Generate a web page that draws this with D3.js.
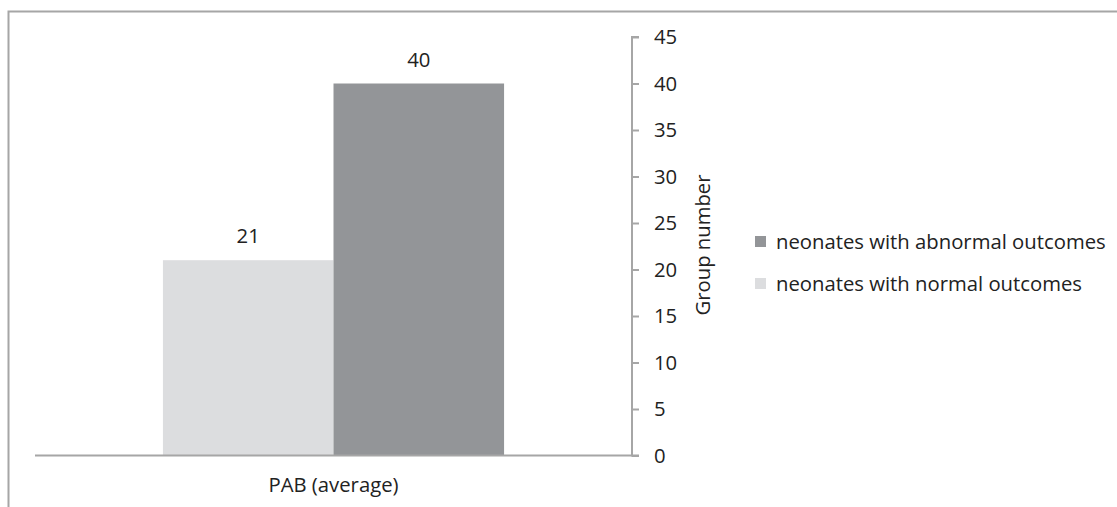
<!DOCTYPE html>
<html><head><meta charset="utf-8">
<script src="https://cdn.jsdelivr.net/npm/d3@7/dist/d3.min.js"></script>
<style>body{margin:0;background:#fff;} svg{display:block;font-family:"Open Sans",sans-serif;}</style>
</head><body>
<script>
const categories = ["PAB (average)"];
const seriesNames = ["neonates with normal outcomes", "neonates with abnormal outcomes"];
const seriesValues = [[21], [40]];
const seriesColors = ["#dcdddf", "#939598"];
const yTicks = [0,5,10,15,20,25,30,35,40,45];
const yTitle = "Group number";

const W = 1117, H = 507, FS = 20.3;
const svg = d3.select("body").append("svg").attr("width", W).attr("height", H);
// outer frame
svg.append("path").attr("d", `M8.5,${H} V11.5 H${W}`).attr("fill","none").attr("stroke","#a6a6a6").attr("stroke-width",2);

const x0 = 35, x1 = 632, yTop = 37, yBot = 455.5;
const y = d3.scaleLinear().domain([0,45]).range([yBot, yTop]);
const xb = d3.scaleBand().domain(categories).range([x0, x1]).paddingInner(0).paddingOuter(0.375);
const xs = d3.scaleBand().domain(seriesNames).range([0, xb.bandwidth()]);

const g = svg.append("g");
categories.forEach((c, ci) => {
  seriesNames.forEach((s, si) => {
    const v = seriesValues[si][ci];
    g.append("rect").attr("x", xb(c)+xs(s)).attr("y", y(v)).attr("width", xs.bandwidth()).attr("height", y(0)-y(v)).attr("fill", seriesColors[si]);
    g.append("text").attr("x", xb(c)+xs(s)+xs.bandwidth()/2).attr("y", y(v)-17).attr("text-anchor","middle").attr("font-size",FS).attr("fill","#222").text(v);
  });
  svg.append("text").attr("x", xb(c)+xb.bandwidth()/2).attr("y", 492).attr("text-anchor","middle").attr("font-size",FS).attr("fill","#222").text(c);
});

// baseline
svg.append("line").attr("x1", x0).attr("x2", x1).attr("y1", y(0)).attr("y2", y(0)).attr("stroke","#a6a6a6").attr("stroke-width",2);

// right axis
const ax = svg.append("g").attr("transform", `translate(${x1},0)`).call(d3.axisRight(y).tickValues(yTicks).tickSize(7).tickPadding(15));
ax.select(".domain").attr("stroke","#a6a6a6").attr("stroke-width",2).attr("d", `M7,${y(45)}H0V${y(0)}H7`);
ax.selectAll(".tick line").attr("stroke","#a6a6a6").attr("stroke-width",2);
ax.selectAll(".tick text").attr("font-size",FS).attr("fill","#222").attr("font-family","Open Sans, sans-serif");

svg.append("text").attr("transform", `translate(710,${245}) rotate(-90)`).attr("text-anchor","middle").attr("font-size",FS).attr("fill","#222").text(yTitle);

// legend (reverse order)
const legendOrder = [1,0];
legendOrder.forEach((si, i) => {
  const ly = 242 + i*42;
  svg.append("rect").attr("x",755).attr("y",ly-6).attr("width",11).attr("height",11).attr("fill",seriesColors[si]);
  svg.append("text").attr("x",776).attr("y",ly+7).attr("font-size",FS).attr("fill","#222").text(seriesNames[si]);
});
</script>
</body></html>
